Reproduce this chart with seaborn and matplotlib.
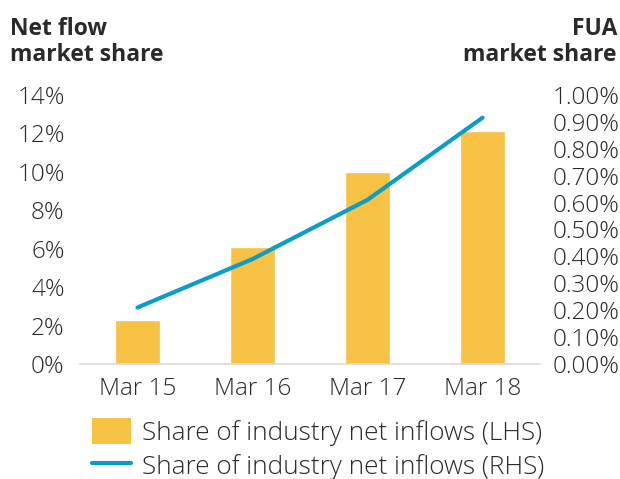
import matplotlib
matplotlib.use("Agg")
import matplotlib.pyplot as plt
import seaborn as sns
import pandas as pd
from matplotlib.patches import Patch
from matplotlib.lines import Line2D
from matplotlib.ticker import FuncFormatter

categories = ["Mar 15", "Mar 16", "Mar 17", "Mar 18"]
net_flow_share = [2.3, 6.1, 10.0, 12.1]      # % LHS
fua_share = [0.21, 0.39, 0.61, 0.915]        # % RHS
left_ticks = [0, 2, 4, 6, 8, 10, 12, 14]
right_ticks = [0.0, 0.1, 0.2, 0.3, 0.4, 0.5, 0.6, 0.7, 0.8, 0.9, 1.0]

sns.set_style("white")
plt.rcParams["font.family"] = ["Open Sans", "DejaVu Sans"]

bar_color = "#F7C244"
line_color = "#0A9DC7"
text_color = "#2a2a2a"
FS = 17.5
LFS = 18.8

df = pd.DataFrame({"cat": categories, "lhs": net_flow_share, "rhs": fua_share})

fig = plt.figure(figsize=(6.2, 4.79), dpi=100)
ax = fig.add_axes([0.129, 0.240, 0.742, 0.562])
sns.barplot(data=df, x="cat", y="lhs", color=bar_color, width=0.39,
            saturation=1, ax=ax)
ax.set_xlim(-0.5, 3.5)
ax.set_ylim(0, 14)
ax.set_yticks(left_ticks)
ax.yaxis.set_major_formatter(FuncFormatter(lambda v, p: f"{v:.0f}%"))

ax2 = ax.twinx()
sns.lineplot(x=list(range(len(categories))), y=fua_share, color=line_color,
             linewidth=3, ax=ax2, solid_capstyle="round")
ax2.set_ylim(0, 1.0)
ax2.set_yticks(right_ticks)
ax2.yaxis.set_major_formatter(FuncFormatter(lambda v, p: f"{v:.2f}%"))
ax.set_xlim(-0.5, 3.5)

for a in (ax, ax2):
    a.set_xlabel("")
    a.set_ylabel("")
    for s in a.spines.values():
        s.set_visible(False)
    a.tick_params(length=0, labelsize=FS, colors=text_color)
    for lab in a.get_xticklabels() + a.get_yticklabels():
        lab.set_fontweight("light")
ax.spines["bottom"].set_visible(True)
ax.spines["bottom"].set_color("#D9D9D9")
ax.spines["bottom"].set_linewidth(1.2)
ax.tick_params(axis="x", pad=9)
ax.tick_params(axis="y", pad=11)
ax2.tick_params(axis="y", pad=9)

fig.text(0.016, 0.965, "Net flow\nmarket share", ha="left", va="top",
         fontsize=16.5, fontweight="bold", color=text_color, linespacing=1.1)
fig.text(0.995, 0.965, "FUA\nmarket share", ha="right", va="top",
         fontsize=16.5, fontweight="bold", color=text_color, linespacing=1.1,
         multialignment="right")

handles = [Patch(facecolor=bar_color, edgecolor="none"),
           Line2D([0], [0], color=line_color, linewidth=3)]
labels = ["Share of industry net inflows (LHS)", "Share of industry net inflows (RHS)"]
leg = fig.legend(handles, labels, loc="upper left", bbox_to_anchor=(0.148, 0.127),
                 frameon=False, handlelength=1.5, handleheight=1.15,
                 handletextpad=0.42, labelspacing=0.25, borderaxespad=0,
                 borderpad=0, prop={"family": ["Open Sans", "DejaVu Sans"],
                                    "size": LFS, "weight": "light"},
                 labelcolor=text_color)

fig.savefig("out.png", dpi=100)
